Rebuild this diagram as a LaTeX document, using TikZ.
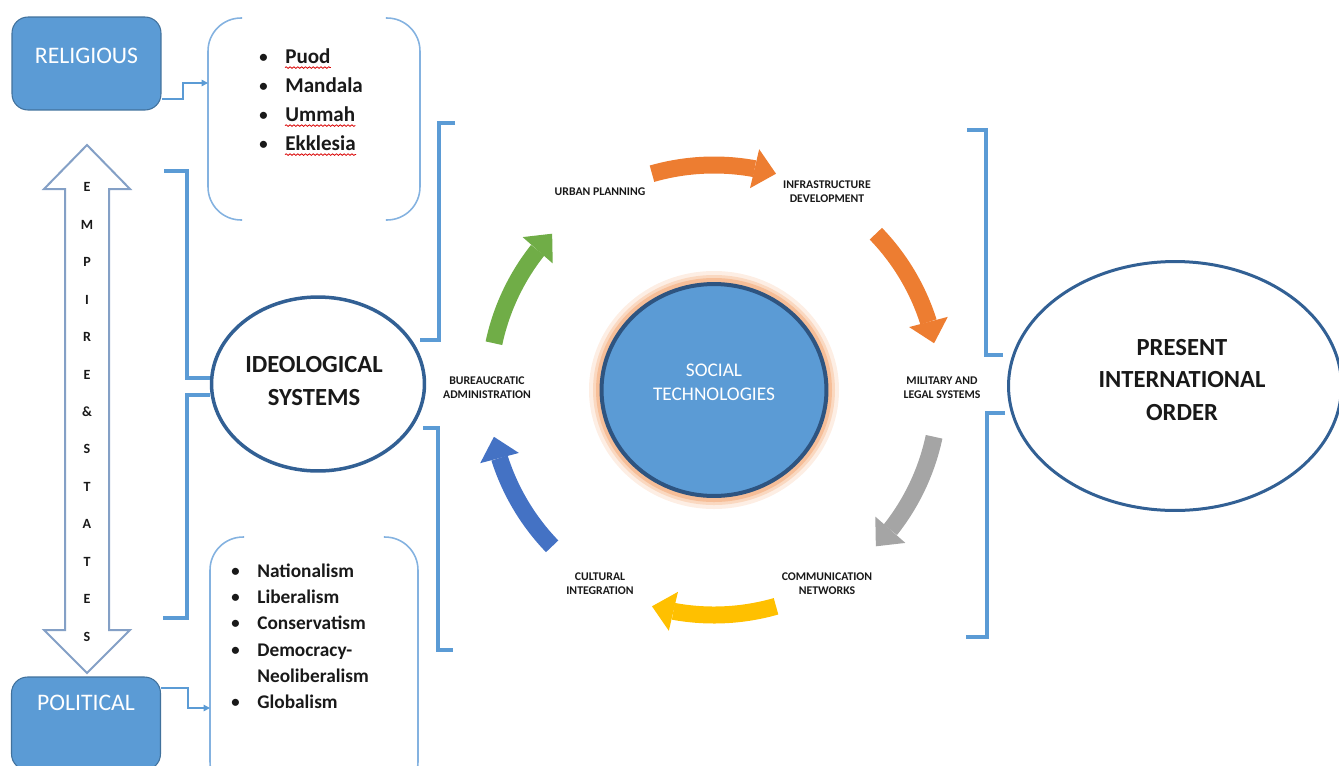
\documentclass[tikz,border=0pt]{standalone}
\usepackage{fontspec}
\setmainfont{Carlito}
\usetikzlibrary{calc,shapes.geometric,arrows.meta,bending,decorations.pathmorphing}

\definecolor{boxblue}{RGB}{91,155,213}
\definecolor{boxedge}{RGB}{65,113,156}
\definecolor{ringblue}{RGB}{50,96,148}
\definecolor{brkblue}{RGB}{91,155,213}
\definecolor{frameblue}{RGB}{132,178,224}
\definecolor{dblblue}{RGB}{132,160,198}
\definecolor{cycorange}{RGB}{237,125,49}
\definecolor{cycgray}{RGB}{165,165,165}
\definecolor{cycyellow}{RGB}{255,192,0}
\definecolor{cycblue}{RGB}{68,114,196}
\definecolor{cycgreen}{RGB}{112,173,71}
\definecolor{glowA}{RGB}{253,238,228}
\definecolor{glowB}{RGB}{250,216,192}
\definecolor{glowC}{RGB}{246,190,152}
\definecolor{hubedge}{RGB}{46,84,128}
\definecolor{inkgray}{RGB}{25,25,25}

\newcommand\bul{\llap{\raisebox{0.5pt}{\fontsize{9.5}{10}\selectfont\textbullet}\hspace{10pt}}}

\tikzset{
	catbox/.style={rectangle, rounded corners=0.32cm, draw=boxedge, line width=0.6pt, fill=boxblue, text=white, minimum width=2.98cm, minimum height=1.86cm, font=\fontsize{13.5}{16}\selectfont},
	frame/.style={minimum width=#1, outer sep=0pt, inner sep=0pt},
	listframe/.style={draw=frameblue, line width=0.9pt, rounded corners=0.66cm},
	relitem/.style={anchor=base west, inner sep=0pt, text=inkgray, font=\bfseries\fontsize{12}{14}\selectfont},
	politem/.style={anchor=base west, inner sep=0pt, text=inkgray, font=\bfseries\fontsize{11}{13}\selectfont},
	link/.style={draw=boxblue, line width=0.8pt, -{Triangle[length=1.3mm,width=1.3mm]}},
	bracket/.style={draw=brkblue, line width=0.075cm},
	ring/.style={ellipse, draw=ringblue, fill=white, text=inkgray, align=center, font=\bfseries\fontsize{14}{18}\selectfont},
	ringtext/.style={align=center, text=inkgray, font=\bfseries\fontsize{14}{18.3}\selectfont},
	cyc/.style={draw=#1, line width=0.34cm, -{Triangle[length=0.44cm,width=0.8cm,line width=0pt]}},
	cyclabel/.style={align=center, text=inkgray, inner sep=0pt, font=\bfseries\fontsize{6.7}{8}\selectfont},
	spell/.style={draw=red!85!black, line width=0.45pt, decorate, decoration={snake, amplitude=0.45pt, segment length=2.2pt}}
}

\begin{document}
\begin{tikzpicture}[x=0.02cm, y=-0.02cm]
	%%%%% START %%%%%
	\useasboundingbox (0,0) rectangle (1339,765);
	
	% category boxes
	\node[catbox, text depth=0.3cm] (rel) at (86.5,63.5) {RELIGIOUS};
	\node[catbox, text depth=0.82cm] (pol) at (86,723.5) {POLITICAL};
	
	% list frames
	\node[frame=4.24cm, minimum height=4.04cm] (rlist) at (314,119) {};
	\draw[listframe] ($(rlist.north west)+(34,0)$) -- (rlist.north west) -- (rlist.south west) -- ($(rlist.south west)+(34,0)$);
	\draw[listframe] ($(rlist.north east)+(-34,0)$) -- (rlist.north east) -- (rlist.south east) -- ($(rlist.south east)+(-34,0)$);
	
	\node[frame=4.16cm, minimum height=5.16cm] (plist) at (314,666) {};
	\draw[listframe] ($(plist.north west)+(34,0)$) -- (plist.north west) -- (plist.south west) -- ($(plist.south west)+(34,0)$);
	\draw[listframe] ($(plist.north east)+(-34,0)$) -- (plist.north east) -- (plist.south east) -- ($(plist.south east)+(-34,0)$);
	
	\draw[link] (rel.east |- 0,99) -- (183,99) |- (rlist.west |- 0,83);
	\draw[link] (pol.east |- 0,688) -- (188,688) |- (plist.west |- 0,708);
	
	% religious list
	\node[relitem] (puod) at (285,63) {\bul Puod};
	\node[relitem] (mandala) at (285,92) {\bul Mandala};
	\node[relitem] (ummah) at (285,121) {\bul Ummah};
	\node[relitem] (ekklesia) at (285,150) {\bul Ekklesia};
	\draw[spell] ([yshift=-2.6pt]puod.base west) -- ([yshift=-2.6pt]puod.base east);
	\draw[spell] ([yshift=-2.6pt]ummah.base west) -- ([yshift=-2.6pt]ummah.base east);
	\draw[spell] ([yshift=-2.6pt]ekklesia.base west) -- ([yshift=-2.6pt]ekklesia.base east);
	
	% political list
	\node[politem] (nation) at (257,577) {\bul Nationalism};
	\node[politem] (liberal) at (257,603) {\bul Liberalism};
	\node[politem] (conserv) at (257,629) {\bul Conservatism};
	\node[politem] (democ) at (257,656) {\bul Democracy-};
	\node[politem] (neolib) at (257,682) {Neoliberalism};
	\node[politem] (global) at (257,708) {\bul Globalism};
	
	% empires and states
	\draw[draw=dblblue, line width=0.04cm, fill=white] (87,145) -- (130,189) -- (109,189) -- (109,630) -- (130,630) -- (87,673) -- (44,630) -- (65,630) -- (65,189) -- (44,189) -- cycle;
	\node[font=\bfseries\fontsize{8}{21.3}\selectfont, align=center, text=inkgray] (empire) at (87,412) {E\\M\\P\\I\\R\\E\\\&\\S\\T\\A\\T\\E\\S};
	
	% ideological systems
	\node[ring, line width=0.07cm, minimum width=4.26cm, minimum height=3.48cm] (ideo) at (318,384) {};
	\node[ringtext] (ideotext) at (314,381) {IDEOLOGICAL\\SYSTEMS};
	\draw[bracket] (164,171) -| (187,378) -- (ideo.west |- 0,378);
	\draw[bracket] (ideo.west |- 0,395) -| (187,618) -- (163,618);
	\draw[bracket] (455,123) -| (439,340) -- (420,340);
	\draw[bracket] (423,428) -| (438,650) -- (453,650);
	
	% social technologies
	\coordinate (hubc) at (714,390);
	\fill[glowA] (hubc) ellipse [x radius=125, y radius=119];
	\fill[glowB] (hubc) ellipse [x radius=121, y radius=115];
	\fill[glowC] (hubc) ellipse [x radius=118, y radius=112];
	\node[ellipse, draw=hubedge, line width=0.08cm, fill=boxblue, minimum width=4.5cm, minimum height=4.24cm] (hub) at (hubc) {};
	\node[text=white, align=center, font=\fontsize{11}{13.6}\selectfont] (hubtext) at (714,382) {SOCIAL\\TECHNOLOGIES};
	
	\draw[cyc=cycorange] ($(hubc)+(-106:225)$) arc (-106:-74:225);
	\draw[cyc=cycorange] ($(hubc)+(-44:225)$) arc (-44:-12:225);
	\draw[cyc=cycgray] ($(hubc)+(12:225)$) arc (12:44:225);
	\draw[cyc=cycyellow] ($(hubc)+(74:225)$) arc (74:106:225);
	\draw[cyc=cycblue] ($(hubc)+(136:225)$) arc (136:168:225);
	\draw[cyc=cycgreen] ($(hubc)+(192:225)$) arc (192:224:225);
	
	\node[cyclabel] (urban) at (600,192) {URBAN PLANNING};
	\node[cyclabel] (infra) at (827,192) {INFRASTRUCTURE\\DEVELOPMENT};
	\node[cyclabel] (milit) at (942,388) {MILITARY AND\\LEGAL SYSTEMS};
	\node[cyclabel] (commun) at (827,584) {COMMUNICATION\\NETWORKS};
	\node[cyclabel] (cultur) at (600,584) {CULTURAL\\INTEGRATION};
	\node[cyclabel] (bureau) at (487,388) {BUREAUCRATIC\\ADMINISTRATION};
	
	% present international order
	\node[ring, line width=0.06cm, minimum width=6.66cm, minimum height=4.98cm] (pio) at (1175,386) {};
	\node[ringtext] (piotext) at (1182,380) {PRESENT\\INTERNATIONAL\\ORDER};
	\draw[bracket] (967,130) -| (986,355) -- (1003,355);
	\draw[bracket] (1005,413) -| (987,637) -- (966,637);
	
	%%%%% END %%%%%
\end{tikzpicture}
\end{document}
